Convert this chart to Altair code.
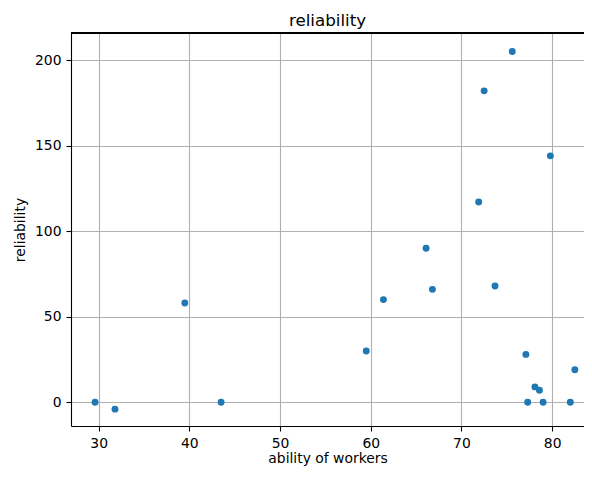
import altair as alt
import pandas as pd

ability = [29.6, 31.8, 43.5, 39.5, 59.5, 61.4, 66.1, 66.8, 71.9, 72.5,
           73.7, 75.6, 77.1, 77.3, 78.1, 78.6, 79.0, 79.8, 82.0, 82.5]
reliability = [0, -4, 0, 58, 30, 60, 90, 66, 117, 182,
               68, 205, 28, 0, 9, 7, 0, 144, 0, 19]

df = pd.DataFrame({"ability of workers": ability, "reliability": reliability})

W, H = 513, 393
FONT = "DejaVu Sans"

points = alt.Chart(df).mark_circle(size=48, color="#1f77b4", opacity=1).encode(
    x=alt.X("ability of workers:Q",
            scale=alt.Scale(domain=[26.95, 26.95 + W / 9.07], nice=False, zero=False),
            axis=alt.Axis(values=[30, 40, 50, 60, 70, 80], title="ability of workers",
                          titlePadding=2)),
    y=alt.Y("reliability:Q",
            scale=alt.Scale(domain=[-13.85, 215.8], nice=False, zero=False),
            axis=alt.Axis(values=[0, 50, 100, 150, 200], title="reliability",
                          titlePadding=7)),
)

top_spine = alt.Chart(df).mark_rule(color="black", strokeWidth=1.1).encode(
    x=alt.value(0), x2=alt.value(W), y=alt.value(0)
)

chart = alt.layer(points, top_spine).properties(
    width=W, height=H,
    title=alt.TitleParams("reliability", fontSize=16.7, font=FONT, fontWeight="normal",
                          color="black", offset=3),
    autosize=alt.AutoSizeParams(type="none"),
    padding={"left": 63, "top": 25, "right": 0, "bottom": 43},
).configure_view(stroke=None).configure_axis(
    labelFont=FONT, titleFont=FONT, labelFontSize=13.9, titleFontSize=13.9,
    labelColor="black", titleColor="black", titleFontWeight="normal",
    domainColor="black", domainWidth=1.1, tickColor="black", tickWidth=1.1,
    tickSize=5, labelPadding=5, grid=True, gridColor="#b0b0b0", gridWidth=1.1,
)

chart.save("out.html", embed_options={"renderer": "svg", "actions": False})
